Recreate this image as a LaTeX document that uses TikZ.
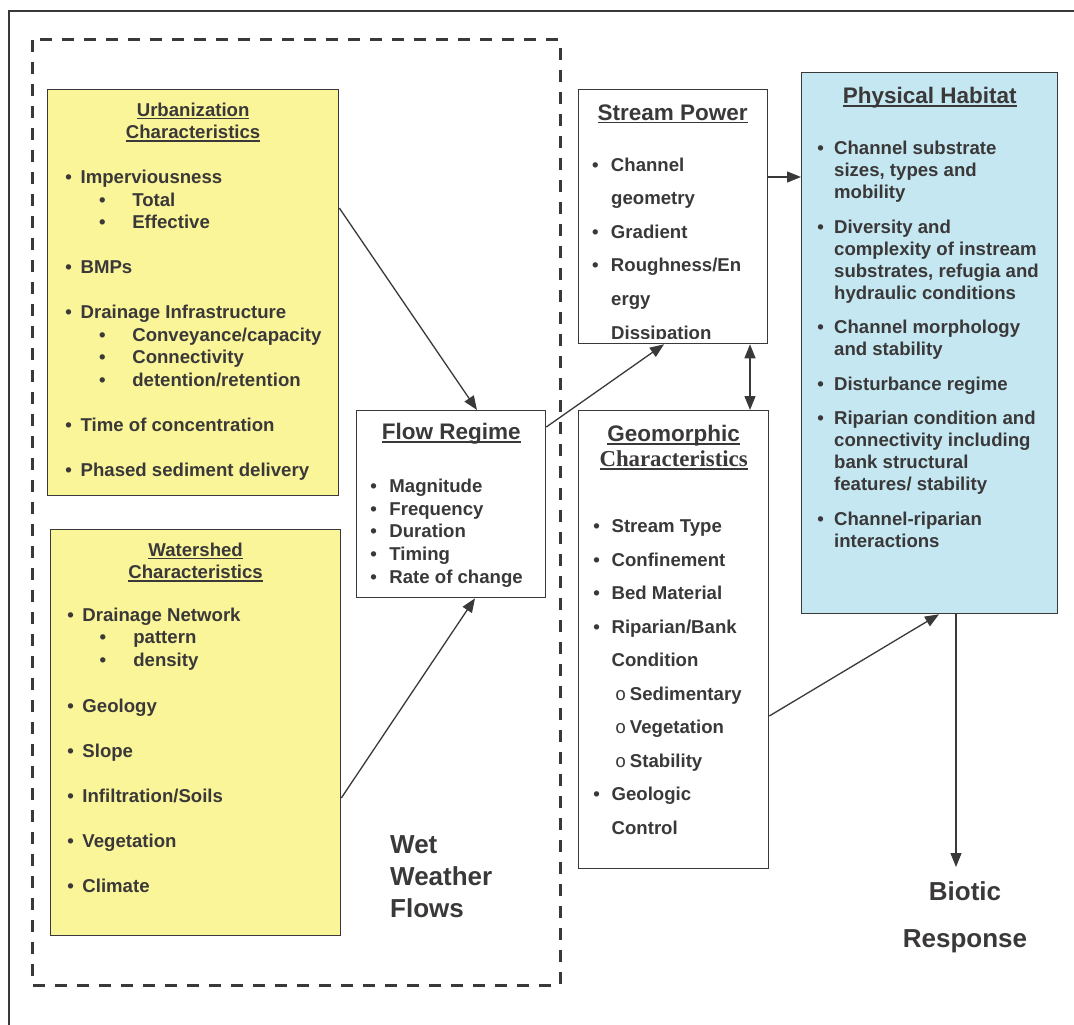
\documentclass[tikz,border=0pt]{standalone}
\usepackage{fontspec}
\setmainfont{Liberation Sans}
\newfontfamily\serifbf{Liberation Serif}
\newfontfamily\monofont{Liberation Mono}
\usetikzlibrary{arrows.meta,calc}
\definecolor{urbanfill}{RGB}{250,245,152}
\definecolor{habitatfill}{RGB}{196,231,241}
\definecolor{inkgray}{RGB}{58,56,56}

% heading underline, list lines
\newcommand{\hdul}[1]{\leavevmode\setbox0\hbox{#1}\rlap{\rule[-3pt]{\wd0}{1.3pt}}\box0}
\newcommand{\bitem}[3]{\hspace*{#1}\makebox[#2][l]{\textbullet}#3\par}
\newcommand{\oitem}[3]{\hspace*{#1}\makebox[#2][l]{\monofont\mdseries o}#3\par}
\newcommand{\contl}[2]{\hspace*{#1}#2\par}

\tikzset{
  boxnode/.style={draw=inkgray, line width=1.3pt, inner sep=0pt, anchor=north west, text=inkgray, font=\bfseries},
  arr/.style={draw=inkgray, line width=1.3pt, -{Triangle[length=14pt,width=11pt]}},
  darr/.style={draw=inkgray, line width=1.3pt, {Triangle[length=14pt,width=11pt]}-{Triangle[length=14pt,width=11pt]}},
}

\begin{document}
\begin{tikzpicture}[x=1pt,y=-1pt]
  \useasboundingbox (0,0) rectangle (1074,1025);

  % page frame
  \draw[inkgray, line width=1.3pt] (1074,11) -- (9,11) -- (9,1025);

  % wet weather flows group
  \draw[inkgray, line width=3pt, dash pattern=on 12pt off 10pt] (32,40) rectangle (560,985);

  % urbanization
  \node[boxnode, fill=urbanfill, minimum width=291pt, minimum height=406pt] (urban) at (47,89)
    {\parbox[c][406pt][t]{291pt}{\fontsize{18.6}{22.5}\selectfont
      \vspace*{6.6pt}
      {\centering\rule{0pt}{20pt}\hdul{Urbanization}\par\hdul{Characteristics}\par}
      \vspace{22.5pt}
      \bitem{17.7pt}{15.3pt}{Imperviousness}
      \bitem{51.5pt}{33.2pt}{Total}
      \bitem{51.5pt}{33.2pt}{Effective}
      \vspace{22.5pt}
      \bitem{17.7pt}{15.3pt}{BMPs}
      \vspace{22.5pt}
      \bitem{17.7pt}{15.3pt}{Drainage Infrastructure}
      \bitem{51.5pt}{33.2pt}{Conveyance/capacity}
      \bitem{51.5pt}{33.2pt}{Connectivity}
      \bitem{51.5pt}{33.2pt}{detention/retention}
      \vspace{22.5pt}
      \bitem{17.7pt}{15.3pt}{Time of concentration}
      \vspace{22.5pt}
      \bitem{17.7pt}{15.3pt}{Phased sediment delivery}}};

  % watershed
  \node[boxnode, fill=urbanfill, minimum width=290pt, minimum height=406pt] (water) at (50,529)
    {\parbox[c][406pt][t]{290pt}{\fontsize{18.6}{22.5}\selectfont
      \vspace*{6.6pt}
      {\centering\rule{0pt}{20pt}\hdul{Watershed}\par\hdul{Characteristics}\par}
      \vspace{20pt}
      \bitem{16.8pt}{15pt}{Drainage Network}
      \bitem{49pt}{33.7pt}{pattern}
      \bitem{49pt}{33.7pt}{density}
      \vspace{24pt}
      \bitem{16.8pt}{15pt}{Geology}
      \vspace{22.5pt}
      \bitem{16.8pt}{15pt}{Slope}
      \vspace{22.5pt}
      \bitem{16.8pt}{15pt}{Infiltration/Soils}
      \vspace{22.5pt}
      \bitem{16.8pt}{15pt}{Vegetation}
      \vspace{22.5pt}
      \bitem{16.8pt}{15pt}{Climate}}};

  % flow regime
  \node[boxnode, fill=white, minimum width=189pt, minimum height=187pt] (flow) at (356,410)
    {\parbox[c][187pt][t]{189pt}{\fontsize{18.6}{22.75}\selectfont
      \vspace*{9pt}
      {\centering\fontsize{22.5}{27}\selectfont\rule{0pt}{20pt}\hdul{Flow Regime}\par}
      \vspace{29.95pt}
      \bitem{13.8pt}{19pt}{Magnitude}
      \bitem{13.8pt}{19pt}{Frequency}
      \bitem{13.8pt}{19pt}{Duration}
      \bitem{13.8pt}{19pt}{Timing}
      \bitem{13.8pt}{19pt}{Rate of change}}};

  % stream power, last line cut by the frame
  \node[boxnode, fill=white, minimum width=189pt, minimum height=254pt] (power) at (578,89) {};
  \begin{scope}
    \clip (power.north west) rectangle ([yshift=6pt]power.south east);
    \node[anchor=north west, inner sep=0pt, text=inkgray, font=\bfseries] (powertext) at (power.north west)
      {\parbox[t]{189pt}{\fontsize{18.6}{33.6}\selectfont
        \vspace*{11pt}
        {\centering\fontsize{22.5}{27}\selectfont\rule{0pt}{20pt}\hdul{Stream Power}\par}
        \vspace{17.4pt}
        \bitem{13.8pt}{19pt}{Channel}
        \contl{33pt}{geometry}
        \bitem{13.8pt}{19pt}{Gradient}
        \bitem{13.8pt}{19pt}{Roughness/En}
        \contl{33pt}{ergy}
        \contl{33pt}{Dissipation}}};
  \end{scope}

  % geomorphic
  \node[boxnode, fill=white, minimum width=190pt, minimum height=458pt] (geo) at (578,410)
    {\parbox[c][458pt][t]{190pt}{\fontsize{18.6}{33.5}\selectfont
      \vspace*{11pt}
      {\centering\fontsize{22.5}{25}\selectfont\rule{0pt}{20pt}\hdul{Geomorphic}\par
       {\serifbf\fontsize{22.8}{25}\selectfont\hdul{Characteristics}}\par}
      \vspace{32.5pt}
      \bitem{14.8pt}{18.2pt}{Stream Type}
      \bitem{14.8pt}{18.2pt}{Confinement}
      \bitem{14.8pt}{18.2pt}{Bed Material}
      \bitem{14.8pt}{18.2pt}{Riparian/Bank}
      \contl{33pt}{Condition}
      \oitem{36.5pt}{14.8pt}{Sedimentary}
      \oitem{36.5pt}{14.8pt}{Vegetation}
      \oitem{36.5pt}{14.8pt}{Stability}
      \bitem{14.8pt}{18.2pt}{Geologic}
      \contl{33pt}{Control}}};

  % physical habitat
  \node[boxnode, fill=habitatfill, minimum width=256pt, minimum height=541pt] (habitat) at (801,72)
    {\parbox[c][541pt][t]{256pt}{\fontsize{18.6}{22}\selectfont
      \vspace*{11pt}
      {\centering\fontsize{22.5}{27}\selectfont\rule{0pt}{20pt}\hdul{Physical Habitat}\par}
      \vspace{29pt}
      \bitem{15.8pt}{16.7pt}{Channel substrate}
      \contl{32.5pt}{sizes, types and}
      \contl{32.5pt}{mobility}
      \vspace{12.5pt}
      \bitem{15.8pt}{16.7pt}{Diversity and}
      \contl{32.5pt}{complexity of instream}
      \contl{32.5pt}{substrates, refugia and}
      \contl{32.5pt}{hydraulic conditions}
      \vspace{12.5pt}
      \bitem{15.8pt}{16.7pt}{Channel morphology}
      \contl{32.5pt}{and stability}
      \vspace{12.5pt}
      \bitem{15.8pt}{16.7pt}{Disturbance regime}
      \vspace{12.5pt}
      \bitem{15.8pt}{16.7pt}{Riparian condition and}
      \contl{32.5pt}{connectivity including}
      \contl{32.5pt}{bank structural}
      \contl{32.5pt}{features/ stability}
      \vspace{12.5pt}
      \bitem{15.8pt}{16.7pt}{Channel-riparian}
      \contl{32.5pt}{interactions}}};

  % free labels
  \node[anchor=north west, align=left, inner sep=0pt, text=inkgray, font=\fontsize{26}{32}\selectfont\bfseries] (wet) at (390,835.4)
    {Wet\\Weather\\Flows};
  \node[anchor=north, align=center, inner sep=0pt, text=inkgray, font=\fontsize{26}{47}\selectfont\bfseries] (biotic) at (965,881.4)
    {Biotic\\Response};

  % connectors
  \draw[arr] ([yshift=-119pt]urban.north east) -- ([xshift=121pt]flow.north west);
  \draw[arr] ([yshift=-269pt]water.north east) -- ([xshift=119pt]flow.south west);
  \draw[arr] ([yshift=-17pt]flow.north east) -- ([xshift=86pt]power.south west);
  \draw[arr] ([yshift=-88pt]power.north east) -- ([yshift=-105pt]habitat.north west);
  \draw[darr] ([xshift=172pt]power.south west) -- ([xshift=172pt]geo.north west);
  \draw[arr] ([yshift=-306pt]geo.north east) -- ([xshift=138pt]habitat.south west);
  \coordinate (bioend) at (956,867);
  \draw[arr] ([xshift=155pt]habitat.south west) -- (bioend);
\end{tikzpicture}
\end{document}
